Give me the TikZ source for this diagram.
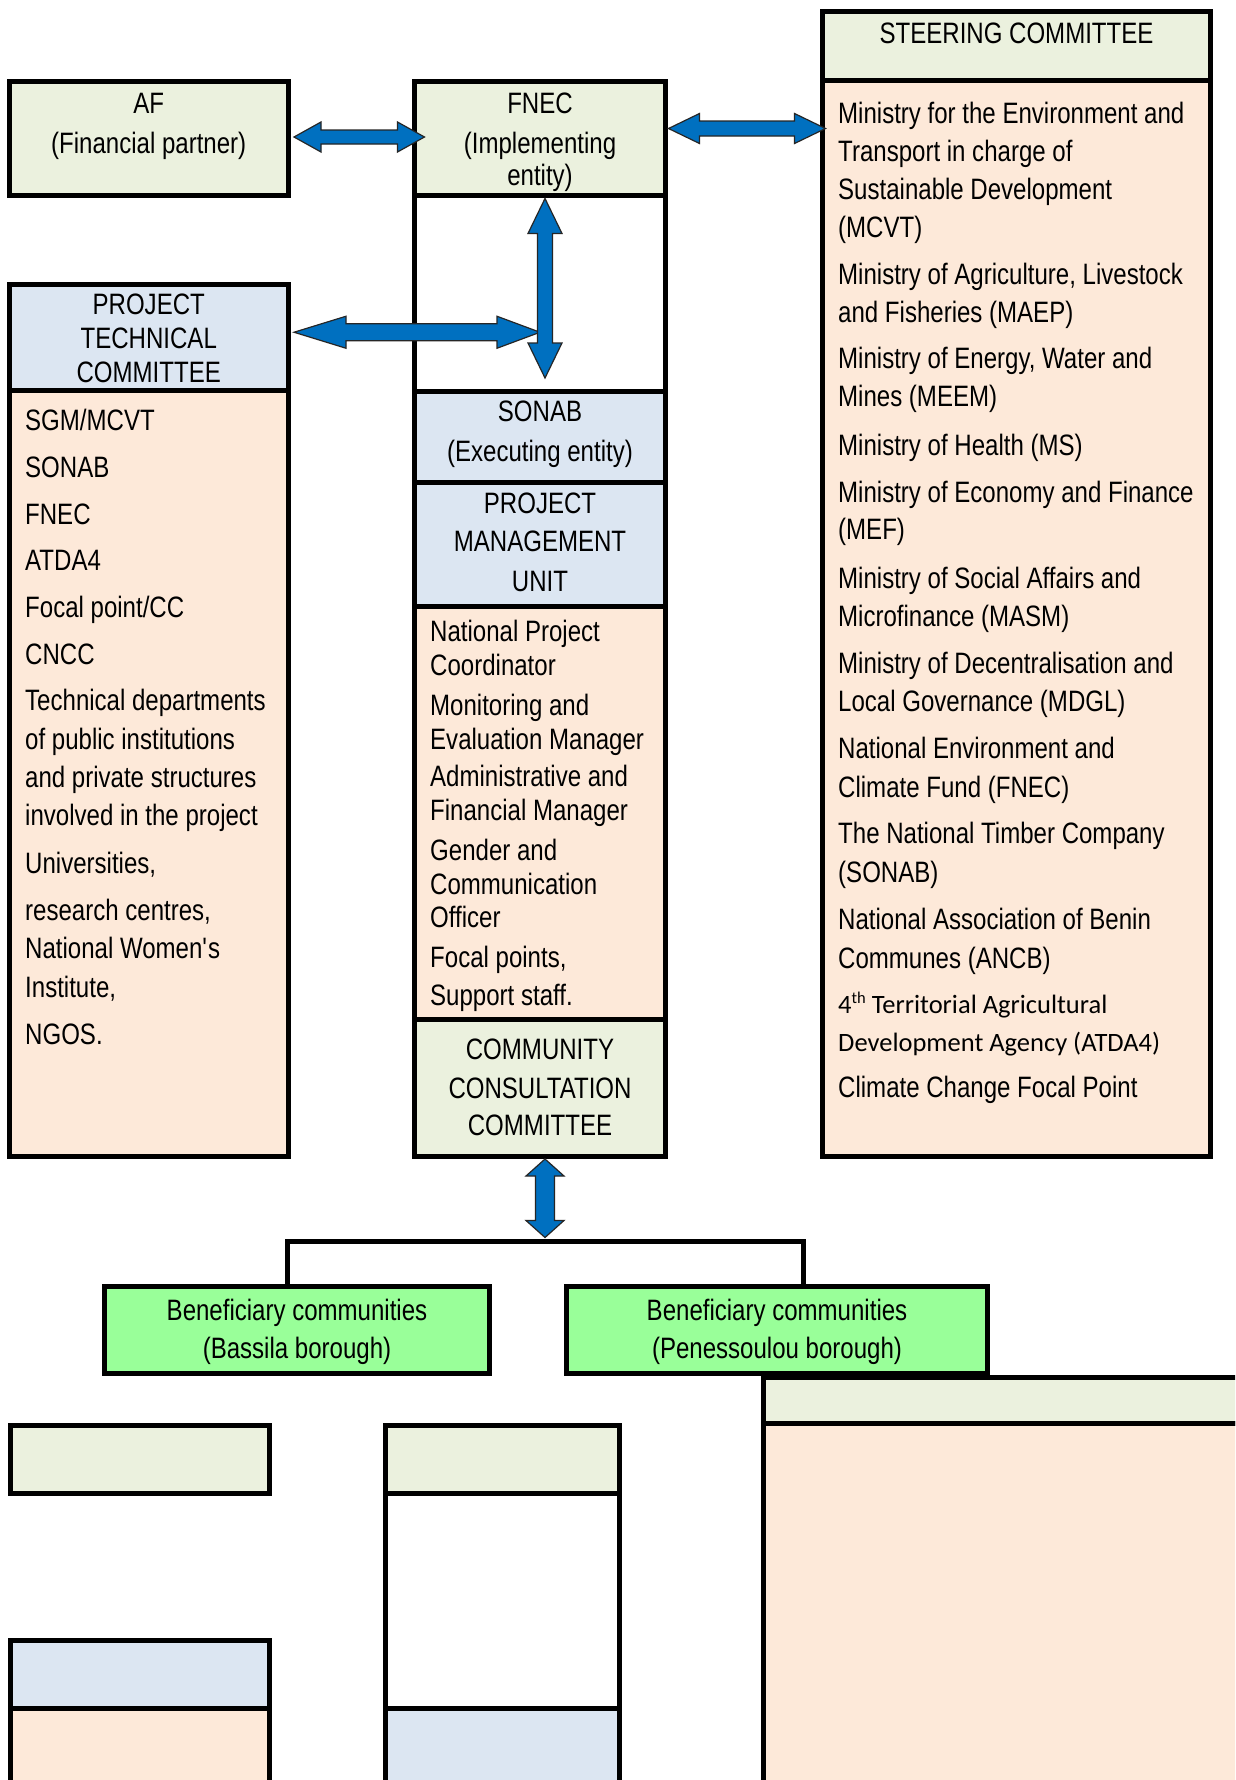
\documentclass[tikz,border=0pt]{standalone}
\usepackage{fontspec}
\setmainfont{Liberation Sans}[FakeStretch=0.815]
\newfontfamily\calfont{Carlito}
\usetikzlibrary{calc}
\definecolor{hgreen}{HTML}{EBF1DE}
\definecolor{hblue}{HTML}{DCE6F2}
\definecolor{peach}{HTML}{FDE9D9}
\definecolor{bgreen}{HTML}{99FF99}
\definecolor{ablue}{HTML}{0070C0}
\newcommand\fs{\fontsize{29.5}{35}\selectfont}
\newcommand\sq{\XeTeXglyph\XeTeXglyphindex"quotesingle"\relax}
\newcommand\mkbox[6]{\node[box, fill=#6, minimum width={#4-#2}, minimum height={#5-#3}] (#1) at (#2,#3) {};}
% horizontal double block arrow: #1 left tip, #2 right tip, #3/#4 head lengths, #5 half head, #6 half shaft
\newcommand\harr[6]{\draw[barrow] (#1) -- ++(#3,-#5) -- ++(0,#5-#6) -- ($(#2)+(-#4,-#6)$) -- ++(0,-#5+#6) -- (#2) -- ++(-#4,#5) -- ++(0,-#5+#6) -- ($(#1)+(#3,#6)$) -- ++(0,#5-#6) -- cycle;}
% vertical double block arrow: #1 top tip, #2 bottom tip
\newcommand\varr[6]{\draw[barrow] (#1) -- ++(-#5,#3) -- ++(#5-#6,0) -- ($(#2)+(-#6,-#4)$) -- ++(-#5+#6,0) -- (#2) -- ++(#5,-#4) -- ++(-#5+#6,0) -- ($(#1)+(#6,#3)$) -- ++(#5-#6,0) -- cycle;}
\begin{document}
\begin{tikzpicture}[x=1pt,y=-1pt,
  box/.style={draw=black, line width=5pt, inner sep=0pt, outer sep=0pt, anchor=north west},
  txt/.style={inner sep=0pt, anchor=base west, font=\fs},
  ctxt/.style={inner sep=0pt, anchor=base, font=\fs},
  caltxt/.style={inner sep=0pt, anchor=base west, font=\calfont\fontsize{26.5}{32}\selectfont},
  barrow/.style={fill=ablue, draw=black!85, line width=1.2pt, line join=miter},
  conn/.style={draw=black, line width=5pt}]
\useasboundingbox (0,0) rectangle (1235,1780);
\clip (0,0) rectangle (1235,1780);
\fill[white] (0,0) rectangle (1235,1780);

% ---- boxes ----
\mkbox{af}{9.5}{81.5}{288}{195.5}{hgreen}
\mkbox{fnec}{414.5}{81.5}{665.5}{195.5}{hgreen}
\mkbox{fnecw}{414.5}{195.5}{665.5}{391}{white}
\mkbox{sonab}{414.5}{391}{665.5}{482}{hblue}
\mkbox{pmuh}{414.5}{482}{665.5}{606}{hblue}
\mkbox{pmuc}{414.5}{606}{665.5}{1019}{peach}
\mkbox{ccc}{414.5}{1019}{665.5}{1156}{hgreen}
\mkbox{sch}{822.5}{11}{1210.5}{80}{hgreen}
\mkbox{scc}{822.5}{80}{1210.5}{1156}{peach}
\mkbox{ptch}{9.5}{284.5}{288}{390}{hblue}
\mkbox{ptcc}{9.5}{390}{288}{1156}{peach}
\mkbox{bas}{104.5}{1286.5}{489.5}{1373.5}{bgreen}
\mkbox{pen}{566.5}{1286.5}{987.5}{1373.5}{bgreen}

% ---- cropped lower fragments ----
\mkbox{frh}{763.5}{1377}{1400}{1423.5}{hgreen}
\mkbox{frc}{763.5}{1423.5}{1400}{1900}{peach}
\mkbox{flg}{10.5}{1425.5}{269.5}{1493}{hgreen}
\mkbox{flb}{10.5}{1640.5}{269.5}{1708}{hblue}
\mkbox{flp}{10.5}{1708}{269.5}{1900}{peach}
\mkbox{fmg}{385.5}{1425.5}{619.5}{1493}{hgreen}
\mkbox{fmw}{385.5}{1493}{619.5}{1708}{white}
\mkbox{fmb}{385.5}{1708}{619.5}{1900}{hblue}

% ---- connectors ----
\coordinate (junc) at ($(ccc.south)+(5,85.5)$);
\draw[conn] ($(bas.north)+(-10,0)$) |- (junc) -| ($(pen.north)+(26,0)$);

\harr{$(af.east)+(6,-1.5)$}{$(af.east -| fnec.west)+(10,-1.5)$}{27}{27}{15}{7}
\harr{$(fnec.east)+(3,-10)$}{$(fnec.east -| sch.west)+(3,-10)$}{31}{31}{15}{7.5}
\harr{$(ptch.east)+(6,-5)$}{$(ptch.east -| fnec.south)+(0,-5)$}{52}{43}{16}{8.5}
\varr{$(fnec.south)+(5,3)$}{$(sonab.north)+(5,-13)$}{35}{35}{17}{7.5}
\varr{$(ccc.south)+(5,3)$}{$(junc)+(0,-4)$}{17}{17}{19}{9.5}

% ---- centred titles ----
\node[ctxt] (aft1) at (148.75,113) {AF};
\node[ctxt] (aft2) at (148.75,153) {(Financial partner)};
\node[ctxt] (fnt1) at (540,113) {FNEC};
\node[ctxt] (fnt2) at (540,153) {(Implementing};
\node[ctxt] (fnt3) at (540,185) {entity)};
\node[ctxt] (sct1) at (1016.5,43) {STEERING COMMITTEE};
\node[ctxt] (ptt1) at (148.75,314) {PROJECT};
\node[ctxt] (ptt2) at (148.75,348) {TECHNICAL};
\node[ctxt] (ptt3) at (148.75,382) {COMMITTEE};
\node[ctxt] (sot1) at (540,421) {SONAB};
\node[ctxt] (sot2) at (540,461) {(Executing entity)};
\node[ctxt] (pmt1) at (540,513) {PROJECT};
\node[ctxt] (pmt2) at (540,551) {MANAGEMENT};
\node[ctxt] (pmt3) at (540,591) {UNIT};
\node[ctxt] (cct1) at (540,1059) {COMMUNITY};
\node[ctxt] (cct2) at (540,1098) {CONSULTATION};
\node[ctxt] (cct3) at (540,1135) {COMMITTEE};
\node[ctxt] (bat1) at (297,1320) {Beneficiary communities};
\node[ctxt] (bat2) at (297,1358) {(Bassila borough)};
\node[ctxt] (pet1) at (777,1320) {Beneficiary communities};
\node[ctxt] (pet2) at (777,1358) {(Penessoulou borough)};

% ---- lists ----
\foreach \y/\t [count=\i] in {
  123/Ministry for the Environment and, 161/Transport in charge of,
  199/Sustainable Development, 237/(MCVT),
  284/{Ministry of Agriculture, Livestock}, 322/and Fisheries (MAEP),
  368/{Ministry of Energy, Water and}, 406/Mines (MEEM),
  455/Ministry of Health (MS),
  502/Ministry of Economy and Finance, 539/(MEF),
  588/Ministry of Social Affairs and, 626/Microfinance (MASM),
  673/Ministry of Decentralisation and, 711/Local Governance (MDGL),
  758/National Environment and, 797/Climate Fund (FNEC),
  843/The National Timber Company, 882/(SONAB),
  929/National Association of Benin, 968/Communes (ANCB),
  1097/Climate Change Focal Point}
  \node[txt] (sc\i) at (838,\y) {\t};
\node[caltxt] (scA) at (838,1013) {4\raisebox{0.72ex}{\fontsize{16.5}{17}\selectfont th} Territorial Agricultural};
\node[caltxt] (scB) at (838,1051) {Development Agency (ATDA4)};

\foreach \y/\t [count=\i] in {
  430/{SGM/MCVT}, 477/SONAB, 524/FNEC, 570/ATDA4, 617/{Focal point/CC}, 664/CNCC,
  710/Technical departments, 749/of public institutions,
  787/and private structures, 825/involved in the project,
  873/{Universities,}, 920/{research centres,}, 958/{National Women\sq s},
  997/{Institute,}, 1044/NGOS.}
  \node[txt] (pl\i) at (25,\y) {\t};

\foreach \y/\t [count=\i] in {
  641/National Project, 675/Coordinator, 715/Monitoring and,
  749/Evaluation Manager, 786/Administrative and, 820/Financial Manager,
  860/Gender and, 894/Communication, 927/Officer,
  967/{Focal points,}, 1005/Support staff.}
  \node[txt] (pm\i) at (430,\y) {\t};
\end{tikzpicture}
\end{document}
